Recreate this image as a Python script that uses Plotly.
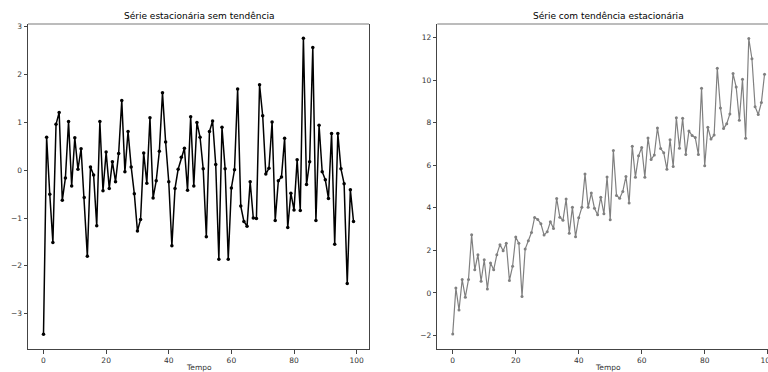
import plotly.graph_objects as go

tempo = list(range(100))

serie_sem_tendencia = [
    -3.43, 0.69, -0.50, -1.51, 0.96, 1.21, -0.63, -0.16, 1.02, -0.33,
    0.68, 0.02, 0.45, -0.57, -1.80, 0.07, -0.10, -1.16, 1.02, -0.43,
    0.38, -0.38, 0.18, -0.24, 0.35, 1.46, -0.03, 0.81, 0.07, -0.49,
    -1.27, -1.03, 0.36, -0.27, 1.10, -0.58, -0.22, 0.40, 1.62, 0.59,
    -0.24, -1.58, -0.38, 0.02, 0.27, 0.46, -0.42, 1.12, -0.33, 1.00,
    0.69, 0.03, -1.39, 0.81, 1.03, 0.12, -1.86, 0.90, 0.03, -1.86,
    -0.37, 0.01, 1.70, -0.75, -1.07, -1.17, -0.24, -1.00, -1.01, 1.79,
    1.14, -0.08, 0.04, 1.01, -1.05, -0.22, -0.14, 0.67, -1.20, -0.48,
    -0.83, 0.22, -0.84, 2.76, -0.30, 0.18, 2.57, -1.05, 0.94, -0.03,
    -0.20, -0.59, 0.77, -1.55, 0.77, 0.03, -0.28, -2.37, -0.41, -1.07,
]

serie_com_tendencia = [
    -1.92, 0.23, -0.80, 0.63, -0.20, 0.63, 2.73, 1.09, 1.80, 0.55,
    1.56, 0.19, 1.41, 1.09, 1.80, 2.27, 1.98, 2.33, 0.59, 1.25,
    2.63, 2.33, -0.16, 2.06, 2.45, 2.84, 3.55, 3.45, 3.25, 2.72,
    2.88, 3.34, 3.03, 4.44, 3.56, 3.41, 4.41, 2.81, 4.02, 2.64,
    3.53, 4.02, 5.59, 4.02, 4.69, 3.98, 3.67, 4.50, 3.72, 5.45,
    3.44, 6.69, 4.58, 4.45, 4.77, 5.47, 4.22, 6.89, 5.44, 6.44,
    6.83, 5.44, 7.28, 6.27, 6.48, 7.75, 6.78, 6.59, 5.81, 7.19,
    5.94, 8.23, 6.80, 8.20, 6.50, 7.61, 7.39, 7.30, 6.50, 9.61,
    5.97, 7.78, 7.23, 7.42, 10.55, 8.69, 7.72, 7.95, 8.41, 10.30,
    9.67, 8.11, 10.03, 7.27, 11.95, 11.00, 8.75, 8.38, 8.94, 10.27,
]

titulos = ["Série estacionária sem tendência", "Série com tendência estacionária"]
rotulo_x = "Tempo"
x_ticks = [0, 20, 40, 60, 80, 100]
y_ticks_esq = [-3, -2, -1, 0, 1, 2, 3]
y_ticks_dir = [-2, 0, 2, 4, 6, 8, 10, 12]

fig = go.Figure()
fig.add_trace(go.Scatter(
    x=tempo, y=serie_sem_tendencia, mode="lines+markers",
    line=dict(color="black", width=1.5),
    marker=dict(color="black", size=3.5),
    xaxis="x", yaxis="y", showlegend=False,
))
fig.add_trace(go.Scatter(
    x=tempo, y=serie_com_tendencia, mode="lines+markers",
    line=dict(color="#808080", width=1.2),
    marker=dict(color="#808080", size=3),
    xaxis="x2", yaxis="y2", showlegend=False,
))

font = "DejaVu Sans"
axis_common = dict(
    showgrid=False, zeroline=False, showline=True, linecolor="#444",
    linewidth=1, ticks="outside", ticklen=3.5, tickcolor="#444",
    tickfont=dict(family=font, size=7.5, color="#333"),
    automargin=False,
)

W, H = 768, 372
ml, mr, mt, mb = 28, 0, 24, 23
pw = W - ml - mr
d1 = [0, (369 - ml) / pw]
d2 = [(437.3 - ml) / pw, 1]

def fmt(v):
    return ("\u2212" + str(-v)) if v < 0 else str(v)

fig.update_layout(
    width=W, height=H,
    margin=dict(l=ml, r=mr, t=mt, b=mb, autoexpand=False),
    paper_bgcolor="white", plot_bgcolor="white",
    xaxis=dict(domain=d1, range=[-4.95, 103.95], tickvals=x_ticks,
               mirror=False, anchor="y", **axis_common),
    yaxis=dict(range=[-3.74, 3.06], tickvals=y_ticks_esq,
               ticktext=[fmt(v) for v in y_ticks_esq],
               mirror=True, anchor="x", **axis_common),
    xaxis2=dict(domain=d2, range=[-4.9, 100.1], tickvals=x_ticks,
                mirror=False, anchor="y2", ticklabeloverflow="allow",
                **axis_common),
    yaxis2=dict(range=[-2.63, 12.63], tickvals=y_ticks_dir,
                ticktext=[fmt(v) for v in y_ticks_dir],
                mirror=False, anchor="x2", **axis_common),
)

# light top spines as in the reference
for d in (d1, d2):
    fig.add_shape(type="line", xref="paper", yref="paper",
                  x0=d[0], x1=d[1], y0=1, y1=1,
                  line=dict(color="#a6a6a6", width=1.6))

ph = H - mt - mb
def py(p):
    return (H - mb - p) / ph

c1 = (198.5 - ml) / pw
c2 = (608 - ml) / pw
for cx, t in zip([c1, c2], titulos):
    fig.add_annotation(x=cx, y=py(16), xref="paper", yref="paper", text=t,
                       showarrow=False, xanchor="center", yanchor="middle",
                       font=dict(family=font, size=9, color="black"))
    fig.add_annotation(x=cx, y=py(367), xref="paper", yref="paper", text=rotulo_x,
                       showarrow=False, xanchor="center", yanchor="middle",
                       font=dict(family=font, size=7.5, color="#333"))

fig.write_html("out.html")
